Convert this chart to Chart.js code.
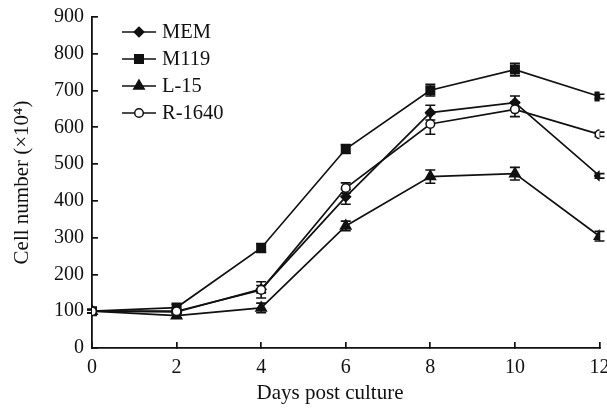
<!DOCTYPE html>
<html><head><meta charset="utf-8">
<script src="https://cdn.jsdelivr.net/npm/chart.js@4/dist/chart.umd.min.js"></script>
<style>html,body{margin:0;padding:0;background:#fff}#wrap{width:607px;height:410px}</style>
</head><body><div id="wrap"><canvas id="c" width="607" height="410"></canvas></div>
<script>
const days = [0, 2, 4, 6, 8, 10, 12];
const seriesNames = ['MEM', 'M119', 'L-15', 'R-1640'];
const memValues = [100, 98, 160, 411, 640, 667, 468];
const m119Values = [100, 110, 272, 541, 701, 757, 684];
const l15Values = [100, 88, 109, 332, 466, 474, 304];
const r1640Values = [100, 100, 158, 435, 609, 649, 581];
const memErr = [4, 5, 10, 20, 20, 18, 6];
const m119Err = [5, 9, 12, 12, 16, 17, 6];
const l15Err = [4, 6, 13, 13, 18, 17, 13];
const r1640Err = [5, 6, 22, 14, 28, 20, 6];
const yTicks = [0, 100, 200, 300, 400, 500, 600, 700, 800, 900];
const xTicks = [0, 2, 4, 6, 8, 10, 12];

const FONT = '"Liberation Serif", "Times New Roman", serif';
const styles = [
  {pointStyle: 'rectRot', radius: 4.8, bg: '#111'},
  {pointStyle: 'rect', radius: 6, bg: '#111'},
  {pointStyle: 'triangle', radius: 6, bg: '#111'},
  {pointStyle: 'circle', radius: 4.3, bg: '#fff'}
];
const allValues = [memValues, m119Values, l15Values, r1640Values];
const allErr = [memErr, m119Err, l15Err, r1640Err];

const datasets = seriesNames.map((name, i) => ({
  label: name,
  data: days.map((d, j) => ({x: d, y: allValues[i][j]})),
  errors: allErr[i],
  borderColor: '#111',
  borderWidth: 1.7,
  pointStyle: styles[i].pointStyle,
  pointRadius: styles[i].radius,
  pointBackgroundColor: styles[i].bg,
  pointBorderColor: '#111',
  pointBorderWidth: 1.5,
  fill: false,
  tension: 0,
  order: i === 3 ? 0 : i + 1
}));

const errorBars = {
  id: 'errorBars',
  beforeDatasetsDraw(chart) {
    const ctx = chart.ctx;
    const xs = chart.scales.x, ys = chart.scales.y;
    ctx.save();
    ctx.strokeStyle = '#111';
    ctx.lineWidth = 1.6;
    chart.data.datasets.forEach(ds => {
      ds.data.forEach((p, j) => {
        const e = ds.errors[j];
        const px = xs.getPixelForValue(p.x);
        const top = ys.getPixelForValue(p.y + e);
        const bot = ys.getPixelForValue(p.y - e);
        ctx.beginPath();
        ctx.moveTo(px, top); ctx.lineTo(px, bot);
        ctx.moveTo(px - 5, top); ctx.lineTo(px + 5, top);
        ctx.moveTo(px - 5, bot); ctx.lineTo(px + 5, bot);
        ctx.stroke();
      });
    });
    ctx.restore();
  }
};

const insideLegend = {
  id: 'insideLegend',
  afterDraw(chart) {
    const ctx = chart.ctx;
    const a = chart.chartArea;
    ctx.save();
    chart.data.datasets.forEach((ds, i) => {
      const y = a.top + 15 + i * 27;
      const x0 = a.left + 30, x1 = a.left + 64;
      ctx.strokeStyle = '#111';
      ctx.lineWidth = 1.7;
      ctx.beginPath(); ctx.moveTo(x0, y); ctx.lineTo(x1, y); ctx.stroke();
      ctx.fillStyle = ds.pointBackgroundColor;
      ctx.lineWidth = ds.pointBorderWidth;
      Chart.helpers.drawPoint(ctx, {pointStyle: ds.pointStyle, radius: ds.pointRadius, rotation: 0, borderWidth: ds.pointBorderWidth}, (x0 + x1) / 2, y);
      ctx.fillStyle = '#111';
      ctx.font = '20.5px ' + FONT;
      ctx.textBaseline = 'middle';
      ctx.textAlign = 'left';
      ctx.fillText(ds.label, x1 + 6, y + 1);
    });
    ctx.restore();
  }
};

new Chart(document.getElementById('c'), {
  type: 'line',
  data: {datasets},
  plugins: [errorBars, insideLegend],
  options: {
    responsive: false,
    animation: false,
    layout: {padding: {top: 17, right: 7, left: 0, bottom: 0}},
    plugins: {legend: {display: false}, tooltip: {enabled: false}},
    scales: {
      x: {
        type: 'linear', min: 0, max: 12,
        afterBuildTicks(s) { s.ticks = xTicks.map(v => ({value: v})); },
        afterFit(s) { s.height = 62; s.paddingLeft = 0; s.paddingRight = 0; },
        grid: {drawOnChartArea: false, tickLength: -6, color: '#111', lineWidth: 1.7},
        border: {color: '#111', width: 1.8},
        ticks: {color: '#111', padding: 14, font: {family: FONT, size: 20}, maxRotation: 0},
        title: {display: true, text: 'Days post culture      ', color: '#111', font: {family: FONT, size: 21}, padding: {top: 4, bottom: 4}}
      },
      y: {
        type: 'linear', min: 0, max: 900,
        afterBuildTicks(s) { s.ticks = yTicks.map(v => ({value: v})); },
        afterFit(s) { s.width = 92; s.paddingTop = 0; s.paddingBottom = 0; },
        grid: {drawOnChartArea: false, tickLength: -6, color: '#111', lineWidth: 1.7},
        border: {color: '#111', width: 1.8},
        ticks: {color: '#111', padding: 14, font: {family: FONT, size: 20}},
        title: {display: true, text: 'Cell number (×10⁴)', color: '#111', font: {family: FONT, size: 21}, padding: {top: 10, bottom: 4}}
      }
    }
  }
});
</script>
</body></html>
